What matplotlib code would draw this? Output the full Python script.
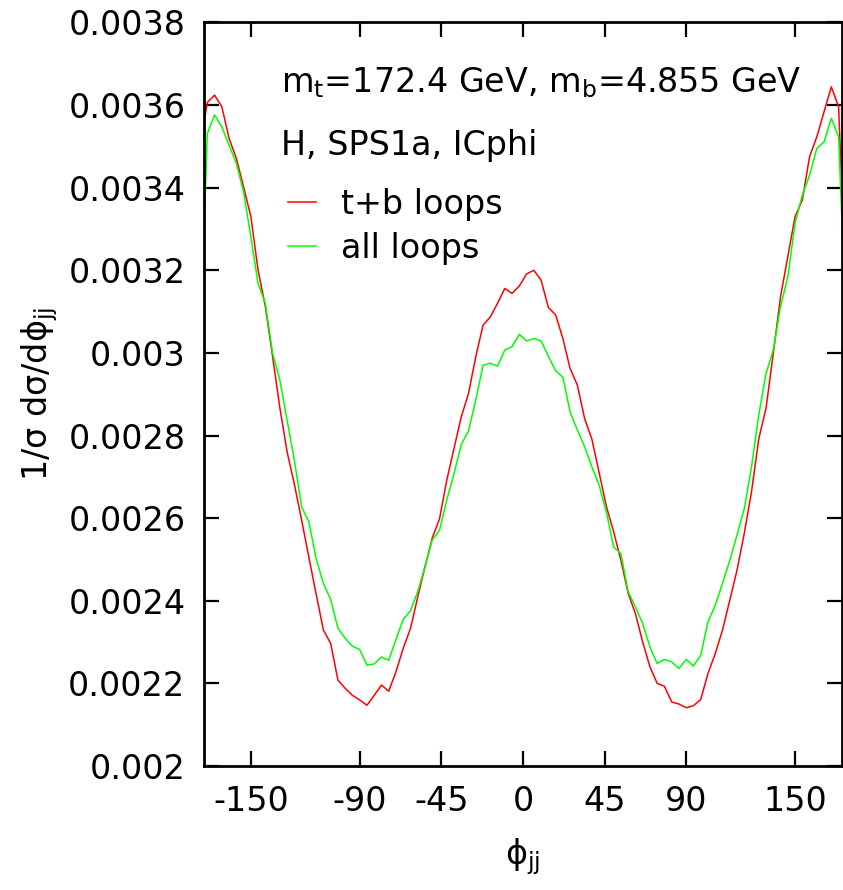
import numpy as np
import matplotlib
matplotlib.use("Agg")
import matplotlib.pyplot as plt

# ---- data ----
phi = list(range(-178, 179, 4))  # bin centres, degrees

tb_loops = [
    0.00350, 0.003606, 0.003624, 0.003596, 0.003519, 0.003471, 0.003402, 0.003330,
    0.003200, 0.003112, 0.002991, 0.002867, 0.002760, 0.002682, 0.002595, 0.002505,
    0.002416, 0.002329, 0.002297, 0.002208, 0.002188, 0.002171, 0.002160, 0.002147,
    0.002171, 0.002196, 0.002181, 0.002228, 0.002285, 0.002333, 0.002409, 0.002482,
    0.002552, 0.002598, 0.002692, 0.002769, 0.002845, 0.002902, 0.002991, 0.003067,
    0.003087, 0.003120, 0.003156, 0.003144, 0.003162, 0.003191, 0.003200, 0.003176,
    0.003110, 0.003092, 0.003035, 0.002962, 0.002922, 0.002841, 0.002791, 0.002710,
    0.002628, 0.002567, 0.002498, 0.002418, 0.002369, 0.002300, 0.002240, 0.002200,
    0.002193, 0.002155, 0.002150, 0.002141, 0.002146, 0.002161, 0.002224, 0.002272,
    0.002329, 0.002401, 0.002474, 0.002563, 0.002664, 0.002792, 0.002866, 0.002999,
    0.003136, 0.003233, 0.003330, 0.003370, 0.003475, 0.003523, 0.003584, 0.003644,
    0.003596, 0.003150,
]

all_loops = [
    0.00300, 0.003531, 0.003576, 0.003547, 0.003503, 0.003459, 0.003390, 0.003281,
    0.003168, 0.003120, 0.002999, 0.002934, 0.002837, 0.002740, 0.002627, 0.002591,
    0.002502, 0.002442, 0.002403, 0.002334, 0.002309, 0.002290, 0.002282, 0.002244,
    0.002247, 0.002264, 0.002256, 0.002306, 0.002355, 0.002376, 0.002422, 0.002482,
    0.002547, 0.002571, 0.002644, 0.002708, 0.002778, 0.002811, 0.002886, 0.002970,
    0.002975, 0.002968, 0.003007, 0.003015, 0.003045, 0.003029, 0.003035, 0.003029,
    0.002992, 0.002957, 0.002941, 0.002857, 0.002813, 0.002773, 0.002724, 0.002680,
    0.002615, 0.002530, 0.002514, 0.002422, 0.002385, 0.002345, 0.002288, 0.002248,
    0.002258, 0.002252, 0.002236, 0.002258, 0.002242, 0.002268, 0.002349, 0.002389,
    0.002442, 0.002498, 0.002559, 0.002623, 0.002724, 0.002850, 0.002950, 0.003007,
    0.003112, 0.003184, 0.003314, 0.003382, 0.003430, 0.003495, 0.003511, 0.003568,
    0.003523, 0.003080,
]

x_ticks = [-150, -90, -45, 0, 45, 90, 150]
x_ticklabels = ["-150", "-90", "-45", "0", "45", "90", "150"]
y_ticks = [0.002, 0.0022, 0.0024, 0.0026, 0.0028, 0.003, 0.0032, 0.0034, 0.0036, 0.0038]
y_ticklabels = ["0.002", "0.0022", "0.0024", "0.0026", "0.0028", "0.003",
                "0.0032", "0.0034", "0.0036", "0.0038"]

series_labels = ["t+b loops", "all loops"]
info_line1 = r"m$_\mathregular{t}$=172.4 GeV, m$_\mathregular{b}$=4.855 GeV"
info_line2 = "H, SPS1a, ICphi"

# ---- style ----
plt.rcParams["font.family"] = ["DejaVu Sans"]
plt.rcParams["mathtext.default"] = "regular"
plt.rcParams["axes.unicode_minus"] = False

W, H = 843, 890
fig = plt.figure(figsize=(W / 100, H / 100), dpi=100)

def fx(px):
    return px / W

def fy(py):
    return 1 - py / H

left, right, top, bottom = 203.5, 841.5, 22.4, 766.0
ax = fig.add_axes([fx(left), fy(bottom), fx(right) - fx(left), fy(top) - fy(bottom)])

fs = 24
l1, = ax.plot(phi, tb_loops, color="#ff0000", lw=1.1, label=series_labels[0])
l2, = ax.plot(phi, all_loops, color="#00ff00", lw=1.1, label=series_labels[1])

ax.set_xlim(-176.1, 175.6)
ax.set_ylim(0.002, 0.0038)
ax.set_xticks(x_ticks)
ax.set_xticklabels(x_ticklabels)
ax.set_yticks(y_ticks)
ax.set_yticklabels(y_ticklabels)

for s in ax.spines.values():
    s.set_linewidth(2.0)
    s.set_color("black")

ax.tick_params(axis="both", which="major", direction="in", length=11, width=1.6,
               top=True, right=True, labelsize=fs, color="black")
ax.tick_params(axis="x", pad=14)
ax.tick_params(axis="y", pad=13)

ax.set_xlabel(r"$\phi_{jj}$", fontsize=fs, labelpad=13)
ax.set_ylabel(r"1/$\sigma$ d$\sigma$/d$\phi_{jj}$", fontsize=fs, labelpad=6)

ax.text(fx(281), fy(92), info_line1, transform=fig.transFigure, fontsize=fs,
        ha="left", va="baseline")
ax.text(fx(281), fy(155), info_line2, transform=fig.transFigure, fontsize=fs,
        ha="left", va="baseline")

leg = ax.legend(handles=[l1, l2], loc="upper left",
                bbox_to_anchor=(fx(288), fy(188)), bbox_transform=fig.transFigure,
                frameon=False, fontsize=fs, handlelength=0.85, handletextpad=0.75,
                labelspacing=0.32, borderaxespad=0, borderpad=0)

fig.savefig("out.png", dpi=100)
